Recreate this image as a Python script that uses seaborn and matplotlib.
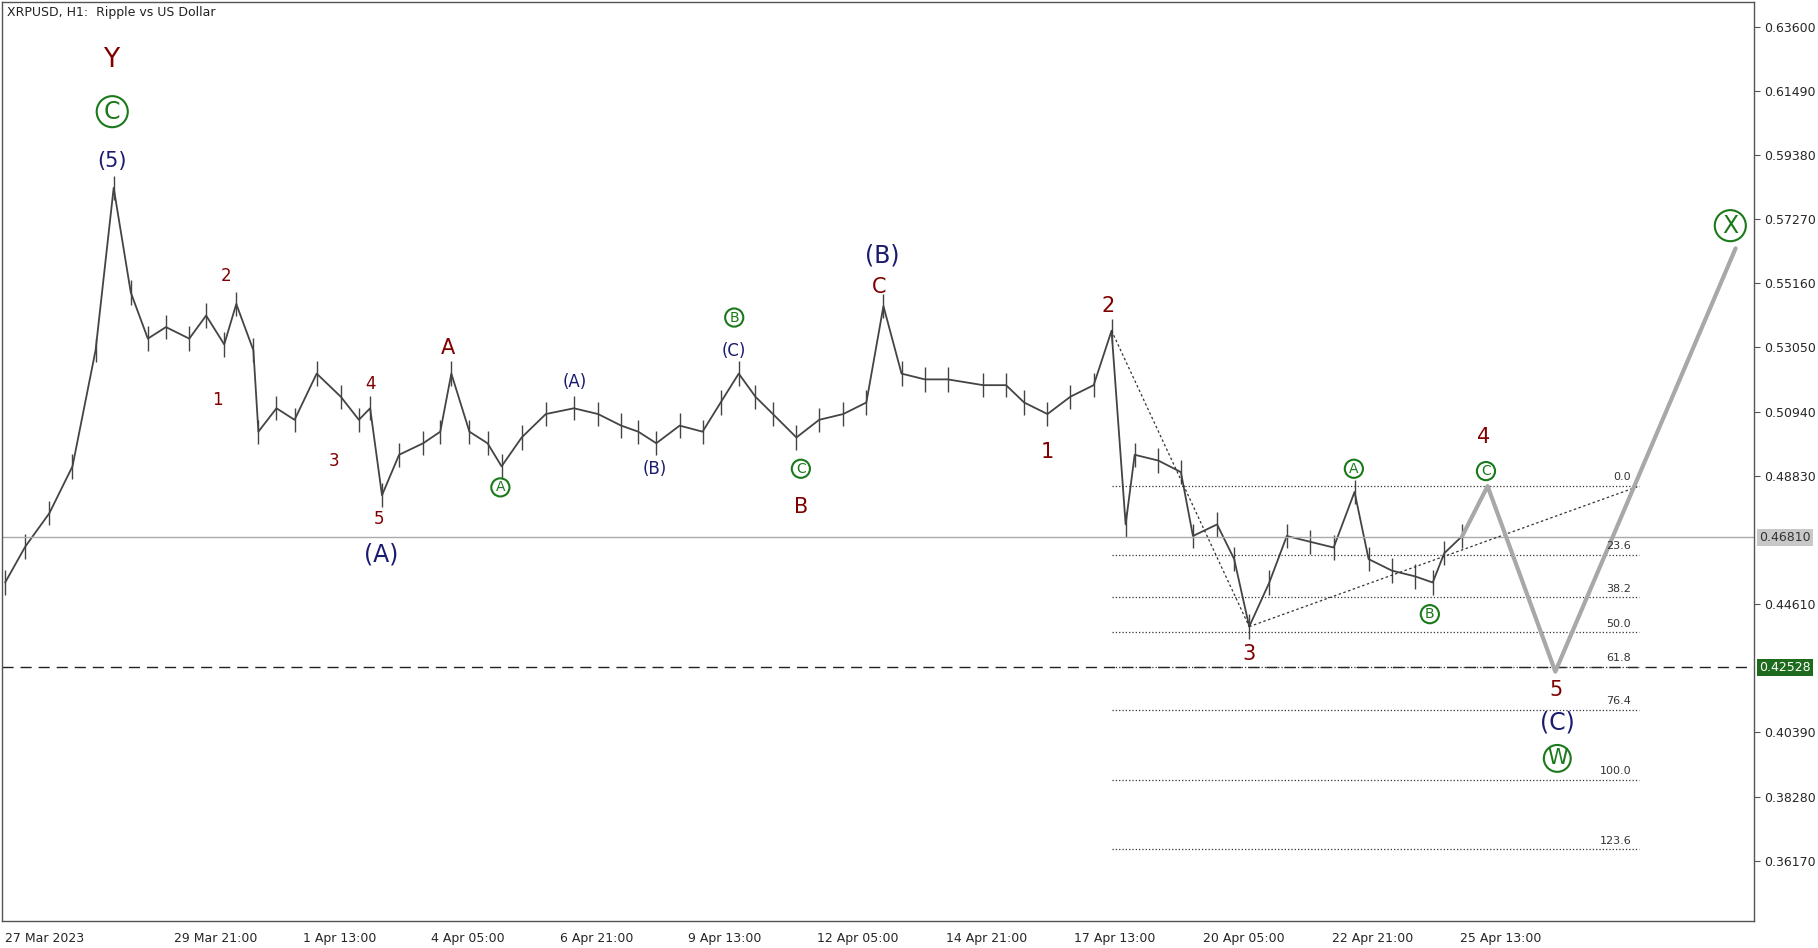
import matplotlib
matplotlib.use("Agg")
import matplotlib.pyplot as plt
import seaborn as sns
import pandas as pd
import numpy as np

# ---- data (hours since 27 Mar 2023 00:00, close prices) ----
hours = [-15,-5,7,18.5,30,39,47.5,56,65,76.6,85,94,100,108.5,111,120,129,140,152,161,166.6,172.5,181,193,201.5,207,216,225,232,242,254,268,280,291.5,300,309,320.6,332,341,350,358.3,367,378.7,390,402,413.5,422,431,442.6,454,471.6,483,492,503.6,515,526.6,535.5,542.5,547,558.8,570,576,588,596.5,604,614,622.7,634.3,646,656.4,663.4,675,686.6,695.3,701,710]
closes = [0.4532,0.4650,0.4760,0.4914,0.5296,0.5830,0.5486,0.5334,0.5372,0.5334,0.5410,0.5315,0.5448,0.5296,0.5028,0.5105,0.5067,0.5219,0.5143,0.5067,0.5105,0.4819,0.4952,0.4990,0.5028,0.5219,0.5028,0.4990,0.4914,0.5009,0.5086,0.5105,0.5086,0.5048,0.5028,0.4990,0.5048,0.5028,0.5124,0.5219,0.5143,0.5086,0.5009,0.5067,0.5086,0.5124,0.5441,0.5219,0.5200,0.5200,0.5181,0.5181,0.5124,0.5086,0.5143,0.5181,0.5360,0.4723,0.4952,0.4933,0.4895,0.4685,0.4723,0.4609,0.4387,0.4532,0.4685,0.4666,0.4647,0.4830,0.4609,0.4571,0.4552,0.4532,0.4628,0.4685]
fib_levels = [0.0,23.6,38.2,50.0,61.8,76.4,100.0,123.6]
fib_prices = [0.4849,0.4624,0.4483,0.4368,0.4254,0.4113,0.3884,0.3655]
fib_start, fib_end = 535.5, 798
proj_h = [710,722.6,756.3,846]
proj_p = [0.4685,0.4849,0.4239,0.5631]
trend1_h = [535.5,604]; trend1_p = [0.5360,0.4387]
trend2_h = [604,798]; trend2_p = [0.4387,0.4849]
current_price = 0.4681
target_price = 0.42528
ytick_vals = [0.636,0.6149,0.5938,0.5727,0.5516,0.5305,0.5094,0.4883,0.4461,0.4039,0.3828,0.3617]
xtick_h = [-15,69,133,197,261,325,389,453,517,581,645,709]
xtick_labels = ["27 Mar 2023","29 Mar 21:00","1 Apr 13:00","4 Apr 05:00","6 Apr 21:00","9 Apr 13:00",
                "12 Apr 05:00","14 Apr 21:00","17 Apr 13:00","20 Apr 05:00","22 Apr 21:00","25 Apr 13:00"]

RED = "#800000"; NAVY = "#1a1a6e"; GREEN = "#1a7a1a"
# wave labels: (px, py) in 1555x815 reference frame, text, colour, size, circled
labels = [
    (95,52,"Y",RED,19,False),(96,96,"C",GREEN,17,True),(96,138,"(5)",NAVY,15,False),
    (193,237,"2",RED,12,False),(186,344,"1",RED,12,False),(286,396,"3",RED,12,False),
    (317,330,"4",RED,12,False),(324,446,"5",RED,12,False),(326,477,"(A)",NAVY,17,False),
    (383,299,"A",RED,15,False),(428,419,"A",GREEN,10,True),(492,328,"(A)",NAVY,12,False),
    (560,403,"(B)",NAVY,12,False),(628,273,"B",GREEN,10,True),(628,302,"(C)",NAVY,12,False),
    (685,403,"C",GREEN,10,True),(685,436,"B",RED,15,False),(755,220,"(B)",NAVY,17,False),
    (752,247,"C",RED,15,False),(948,263,"2",RED,15,False),(896,389,"1",RED,15,False),
    (1068,562,"3",RED,15,False),(1158,403,"A",GREEN,10,True),(1223,528,"B",GREEN,10,True),
    (1269,376,"4",RED,15,False),(1271,405,"C",GREEN,10,True),(1331,593,"5",RED,15,False),
    (1332,621,"(C)",NAVY,17,False),(1332,652,"W",GREEN,15,True),(1480,194,"X",GREEN,17,True),
]

sns.set_style("white")
plt.rcParams['font.family'] = ['DejaVu Sans']
fig = plt.figure(figsize=(18.18, 9.48), dpi=100)
ax = fig.add_axes([2/1555, 1-792/815, 1498/1555, 790/815])

df = pd.DataFrame({"h": hours, "p": closes})
sns.lineplot(data=df, x="h", y="p", ax=ax, color="#444444", lw=1.3)
ax.vlines(df["h"], df["p"] - 0.004, df["p"] + 0.004, color="#444444", lw=1)

ax.axhline(current_price, color="#aaaaaa", lw=1)
ax.axhline(target_price, color="#222222", lw=1, ls=(0, (8, 5)))
for lv, pr in zip(fib_levels, fib_prices):
    ax.plot([fib_start, fib_end], [pr, pr], color="#333333", lw=0.9, ls=":")
    ax.text(fib_end - 4, pr + 0.0012, f"{lv:.1f}", fontsize=8, ha="right", va="bottom", color="#333333")
ax.plot(trend1_h, trend1_p, color="#333333", lw=0.9, ls=(0, (2, 2)))
ax.plot(trend2_h, trend2_p, color="#333333", lw=0.9, ls=(0, (2, 2)))
ax.plot(proj_h, proj_p, color="#a8a8a8", lw=3, solid_capstyle="round")

ax.set_xlim(-16.4, 855)
ax.set_ylim(0.3418, 0.644)
ax.yaxis.tick_right()
ax.set_yticks(ytick_vals)
ax.set_yticklabels([f"{v:.5f}" for v in ytick_vals], fontsize=9)
ax.set_xticks(xtick_h)
ax.set_xticklabels(xtick_labels, fontsize=9, ha="left")
ax.tick_params(length=4, color="#555555")
ax.set_xlabel(""); ax.set_ylabel("")
for s in ax.spines.values():
    s.set_color("#555555"); s.set_linewidth(1)

ax.text(1.003, current_price, f"{current_price:.5f}", transform=ax.get_yaxis_transform(),
        fontsize=9, va="center", ha="left", color="#333333",
        bbox=dict(fc="#c8c8c8", ec="none", pad=1.5))
ax.text(1.003, target_price, f"{target_price:.5f}", transform=ax.get_yaxis_transform(),
        fontsize=9, va="center", ha="left", color="white",
        bbox=dict(fc="#1e6b1e", ec="none", pad=1.5))

for px, py, t, c, sz, circ in labels:
    kw = dict(ha="center", va="center", color=c, fontsize=sz)
    if circ:
        kw["bbox"] = dict(boxstyle="circle,pad=0.15", fc="none", ec=c, lw=1.5)
    fig.text(px/1555, 1-py/815, t, **kw)

fig.text(6/1555, 1-11/815, "XRPUSD, H1:  Ripple vs US Dollar", fontsize=9, va="center", color="#222222")
fig.savefig("out.png", dpi=100)
